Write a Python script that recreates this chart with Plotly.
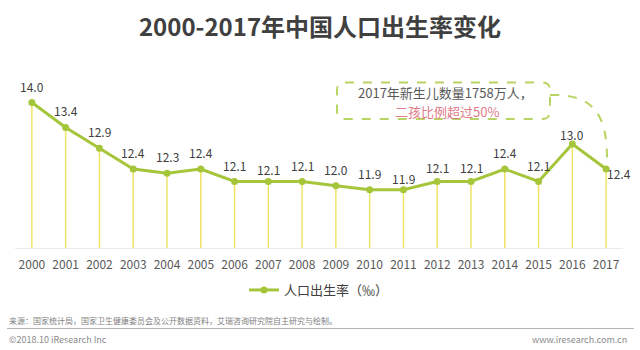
import plotly.graph_objects as go

# ---- data ----
years = [2000, 2001, 2002, 2003, 2004, 2005, 2006, 2007, 2008,
         2009, 2010, 2011, 2012, 2013, 2014, 2015, 2016, 2017]
year_labels = [str(y) for y in years]
birth_rate = [14.0, 13.4, 12.9, 12.4, 12.3, 12.4, 12.1, 12.1, 12.1,
              12.0, 11.9, 11.9, 12.1, 12.1, 12.4, 12.1, 13.0, 12.4]
series_name = "人口出生率（‰）"
title_text = "2000-2017年中国人口出生率变化"
callout_line1 = "2017年新生儿数量1758万人，"
callout_line2 = "二孩比例超过50%"
source_text = "来源：国家统计局，国家卫生健康委员会及公开数据资料，艾瑞咨询研究院自主研究与绘制。"
copyright_text = "©2018.10 iResearch Inc"
site_text = "www.iresearch.com.cn"

# ---- style ----
FONT = "Noto Sans CJK SC, Noto Sans, sans-serif"
LINE_C = "#a5c63b"
STEM_C = "#efe463"
Y_MIN, Y_MAX = 10.5, 15.0
W, H = 640, 350
ML, MR, MT, MB = 15, 17, 61, 102
PW, PH = W - ML - MR, H - MT - MB


def xp(px):
    return (px - ML) / PW


def yp(py):
    return (H - MB - py) / PH


fig = go.Figure()

# stems
fig.add_trace(go.Scatter(
    x=years, y=birth_rate, mode="markers",
    marker=dict(size=0.1, color="rgba(0,0,0,0)"),
    error_y=dict(type="data", symmetric=False,
                 array=[0] * len(birth_rate),
                 arrayminus=[v - Y_MIN for v in birth_rate],
                 color=STEM_C, thickness=1.5, width=0),
    showlegend=False, hoverinfo="skip",
))

# main line
fig.add_trace(go.Scatter(
    x=years, y=birth_rate, mode="lines+markers", name=series_name,
    line=dict(color=LINE_C, width=3),
    marker=dict(color=LINE_C, size=7),
))

# value labels
shift_y = {2007: 12, 2011: 11, 2012: 14, 2013: 14, 2016: 10}
annotations = []
for yr, v in zip(years, birth_rate):
    if yr == years[-1]:
        annotations.append(dict(x=yr, y=v, xref="x", yref="y", text=f"{v:.1f}",
                                showarrow=False, xshift=13, yshift=-4,
                                xanchor="center", yanchor="middle",
                                font=dict(size=12, color="#404040", family=FONT)))
    else:
        annotations.append(dict(x=yr, y=v, xref="x", yref="y", text=f"{v:.1f}",
                                showarrow=False, yshift=shift_y.get(yr, 16.5),
                                xanchor="center", yanchor="middle",
                                font=dict(size=12, color="#404040", family=FONT)))

# callout text
annotations.append(dict(x=xp(445), y=yp(92.5), xref="paper", yref="paper",
                        xanchor="center", yanchor="middle",
                        text=callout_line1, showarrow=False,
                        font=dict(size=13, color="#595959", family=FONT)))
annotations.append(dict(x=xp(447), y=yp(111.5), xref="paper", yref="paper",
                        xanchor="center", yanchor="middle",
                        text=callout_line2, showarrow=False,
                        font=dict(size=13, color="#e07a88", family=FONT)))

# footer
annotations.append(dict(x=xp(7), y=yp(320), xref="paper", yref="paper",
                        xanchor="left", yanchor="middle", text=source_text, showarrow=False,
                        font=dict(size=8, color="#808080", family=FONT)))
annotations.append(dict(x=xp(7), y=yp(339), xref="paper", yref="paper",
                        xanchor="left", yanchor="middle", text=copyright_text, showarrow=False,
                        font=dict(size=9, color="#8a8a8a", family=FONT)))
annotations.append(dict(x=xp(629), y=yp(339), xref="paper", yref="paper",
                        xanchor="right", yanchor="middle", text=site_text, showarrow=False,
                        font=dict(size=9, color="#8a8a8a", family=FONT)))

# callout box (rounded dashed rectangle) in pixel -> paper coords
bx0, bx1, by0, by1, r = 337, 550, 82.5, 119, 8
rx, ry = r / PW, r / PH
X0, X1, Y0, Y1 = xp(bx0), xp(bx1), yp(by1), yp(by0)
box_path = (f"M {X0+rx} {Y1} L {X1-rx} {Y1} Q {X1} {Y1} {X1} {Y1-ry} "
            f"L {X1} {Y0+ry} Q {X1} {Y0} {X1-rx} {Y0} "
            f"L {X0+rx} {Y0} Q {X0} {Y0} {X0} {Y0+ry} "
            f"L {X0} {Y1-ry} Q {X0} {Y1} {X0+rx} {Y1} Z")
curve_path = (f"M {xp(550)} {yp(95)} C {xp(592)} {yp(94)} {xp(608)} {yp(112)} "
              f"{xp(607)} {yp(163)}")
shapes = [
    dict(type="path", xref="paper", yref="paper", path=box_path,
         line=dict(color="#b8d462", width=2, dash="dash")),
    dict(type="path", xref="paper", yref="paper", path=curve_path,
         line=dict(color="#b8d462", width=2, dash="dash")),
    dict(type="line", xref="paper", yref="paper", x0=xp(7), x1=xp(634),
         y0=yp(328.5), y1=yp(328.5), line=dict(color="#b5b5b5", width=1)),
]

fig.update_layout(
    width=W, height=H,
    margin=dict(l=ML, r=MR, t=MT, b=MB),
    paper_bgcolor="white", plot_bgcolor="white",
    font=dict(family=FONT, color="#404040"),
    title=dict(text=f"<b>{title_text}</b>", x=0.5, xanchor="center",
               xref="container", y=1 - 27.5 / H, yanchor="middle",
               font=dict(size=24, color="#404040", family=FONT)),
    xaxis=dict(range=[years[0] - 0.5, years[-1] + 0.5], tickmode="array",
               tickvals=years, ticktext=year_labels, showgrid=False,
               zeroline=False, showline=True, linecolor="#ebebeb", linewidth=1,
               ticks="", ticklabelstandoff=6,
               tickfont=dict(size=12, color="#595959", family=FONT)),
    yaxis=dict(range=[Y_MIN, Y_MAX], visible=False, showgrid=False, zeroline=False),
    showlegend=True,
    legend=dict(orientation="h", x=0.5, xanchor="center", y=yp(290),
                yanchor="middle", font=dict(size=13, color="#404040", family=FONT),
                bgcolor="rgba(0,0,0,0)"),
    annotations=annotations,
    shapes=shapes,
)

fig.write_html("out.html")
